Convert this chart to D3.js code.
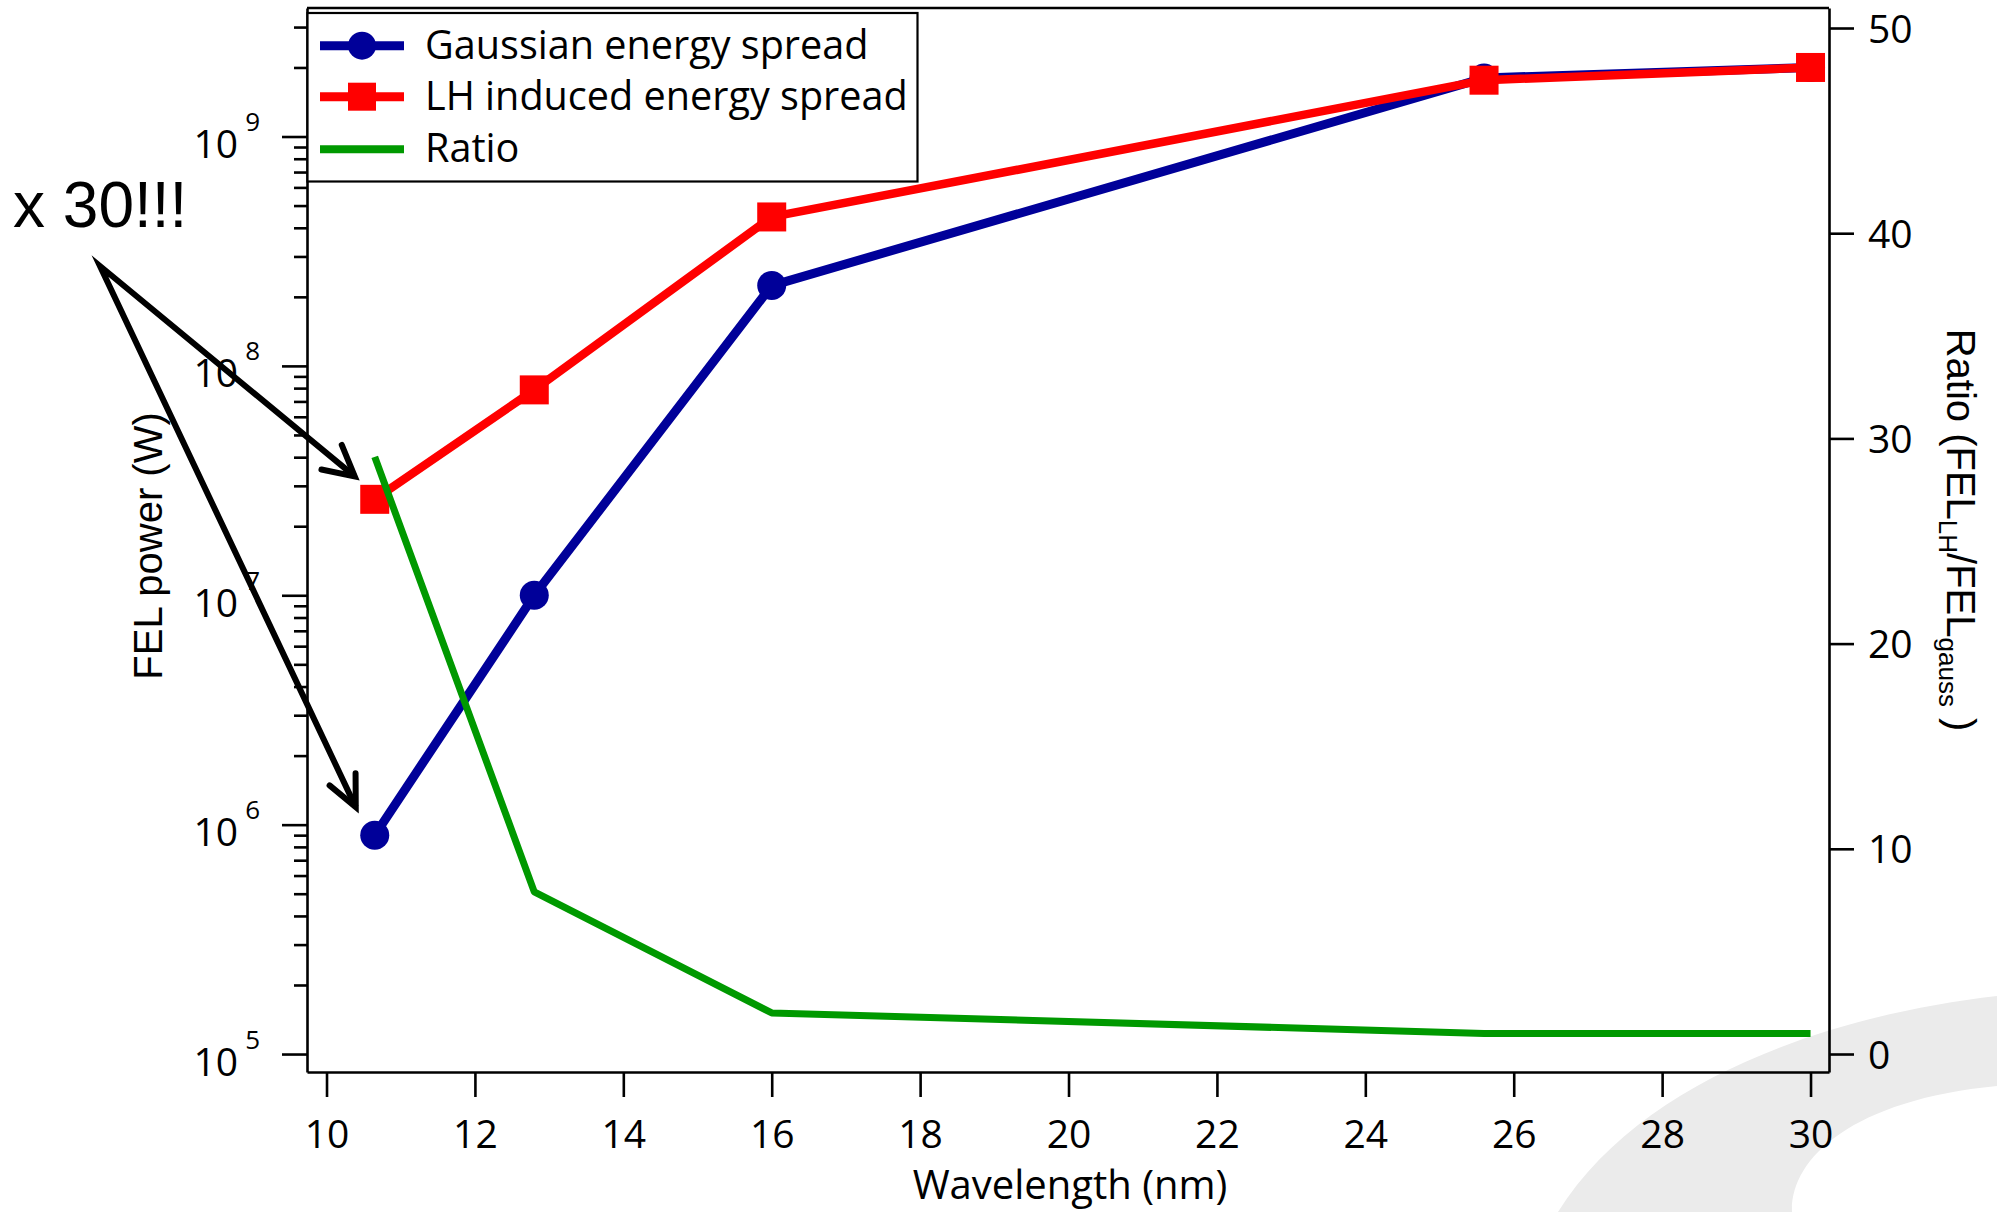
<!DOCTYPE html>
<html>
<head>
<meta charset="utf-8">
<script src="https://cdn.jsdelivr.net/npm/d3@7"></script>
<style>
  html, body { margin: 0; padding: 0; background: #ffffff; }
  svg { display: block; }
</style>
</head>
<body>
<svg id="chart" width="1997" height="1212"></svg>
<script>
// ---- data ----
const wavelength    = [10.65, 12.8, 16, 25.6, 30];          // nm
const gaussianPower = [9.0e5, 1.0e7, 2.24e8, 1.8e9, 2.0e9]; // W
const lhPower       = [2.62e7, 7.86e7, 4.46e8, 1.76e9, 2.0e9]; // W
const ratio         = [29.1, 7.9, 2.0, 1.0, 1.0];           // FEL_LH / FEL_gauss

const xTicks       = [10, 12, 14, 16, 18, 20, 22, 24, 26, 28, 30];
const powerDecades = [5, 6, 7, 8, 9];
const ratioTicks   = [0, 10, 20, 30, 40, 50];
const seriesNames  = ["Gaussian energy spread", "LH induced energy spread", "Ratio"];
const annotation   = "x 30!!!";

// ---- styling ----
const BLUE = "#000099", RED = "#ff0000", GREEN = "#009900";
const TICK_FONT = "'Open Sans', 'DejaVu Sans', sans-serif";
const LABEL_FONT = "'Liberation Sans', Arial, Helvetica, sans-serif";

const plot = { left: 307, right: 1829, top: 8, bottom: 1072 };

const svg = d3.select("#chart");

// ---- scales ----
const x = d3.scaleLinear().domain([9.737, 30.249]).range([plot.left, plot.right]);
const yPow = d3.scaleLog().domain([8.35e4, 3.633e9]).range([plot.bottom, plot.top]);
const yRatio = d3.scaleLinear().domain([-0.877, 50.975]).range([plot.bottom, plot.top]);

// ---- decorative background swoosh ----
svg.append("path")
  .attr("d", "M1997,996 C1830,1015 1640,1080 1558,1212 L1792,1212 C1790,1160 1850,1100 1997,1086 Z")
  .attr("fill", "#ebebeb");

// ---- axes ----
const axisStroke = 2.6;

function styleAxis(g) {
  g.selectAll("path.domain").attr("stroke", "#000").attr("stroke-width", axisStroke);
  g.selectAll(".tick line").attr("stroke", "#000").attr("stroke-width", axisStroke);
  g.selectAll(".tick text").attr("fill", "#000");
  g.attr("font-family", TICK_FONT).attr("font-size", 39);
}

// bottom: wavelength
const xAxisG = svg.append("g")
  .attr("transform", `translate(0,${plot.bottom})`)
  .call(d3.axisBottom(x).tickValues(xTicks).tickSize(25).tickSizeOuter(0).tickPadding(23)
        .tickFormat(d3.format("d")));
styleAxis(xAxisG);

// left: power, minor ticks
const majors = powerDecades.map(d => Math.pow(10, d));
const minors = [];
powerDecades.forEach(d => {
  for (let m = 2; m <= 9; m++) {
    const v = m * Math.pow(10, d);
    if (v <= yPow.domain()[1]) minors.push(v);
  }
});
const minorG = svg.append("g")
  .attr("transform", `translate(${plot.left},0)`)
  .call(d3.axisLeft(yPow).tickValues(minors).tickSize(13).tickSizeOuter(0).tickFormat(""));
styleAxis(minorG);
minorG.select("path.domain").remove();

// left: power, decades with 10^n labels
const yAxisG = svg.append("g")
  .attr("transform", `translate(${plot.left},0)`)
  .call(d3.axisLeft(yPow).tickValues(majors).tickSize(25).tickSizeOuter(0).tickPadding(22)
        .tickFormat(() => ""));
styleAxis(yAxisG);
yAxisG.selectAll(".tick text")
  .attr("font-size", 39)
  .attr("dy", 21)
  .each(function(d) {
    const t = d3.select(this);
    t.text(null);
    t.append("tspan").text("10");
    t.append("tspan").attr("font-size", 26).attr("dy", -27).attr("dx", 7)
      .text(Math.round(Math.log10(d)));
  });

// right: ratio
const rAxisG = svg.append("g")
  .attr("transform", `translate(${plot.right},0)`)
  .call(d3.axisRight(yRatio).tickValues(ratioTicks).tickSize(25).tickSizeOuter(0).tickPadding(14)
        .tickFormat(d3.format("d")));
styleAxis(rAxisG);
rAxisG.selectAll(".tick text").attr("dy", "0.36em");

// top frame line
svg.append("line")
  .attr("x1", x.range()[0]).attr("x2", x.range()[1])
  .attr("y1", yPow.range()[1]).attr("y2", yPow.range()[1])
  .attr("stroke", "#000").attr("stroke-width", axisStroke);

// ---- axis titles ----
svg.append("text")
  .attr("x", (plot.left + plot.right) / 2 + 2)
  .attr("y", 1199)
  .attr("text-anchor", "middle")
  .attr("font-family", TICK_FONT)
  .attr("font-size", 40)
  .attr("fill", "#000")
  .text("Wavelength (nm)");

svg.append("text")
  .attr("transform", "translate(162,546) rotate(-90)")
  .attr("text-anchor", "middle")
  .attr("font-family", LABEL_FONT)
  .attr("font-size", 40)
  .attr("fill", "#000")
  .text("FEL power (W)");

const rTitle = svg.append("text")
  .attr("transform", "translate(1947,530) rotate(90)")
  .attr("text-anchor", "middle")
  .attr("font-family", LABEL_FONT)
  .attr("font-size", 40)
  .attr("fill", "#000");
rTitle.append("tspan").text("Ratio (FEL");
rTitle.append("tspan").attr("font-size", 26).attr("dy", 8).text("LH");
rTitle.append("tspan").attr("dy", -8).text("/FEL");
rTitle.append("tspan").attr("font-size", 26).attr("dy", 8).text("gauss");
rTitle.append("tspan").attr("dy", -8).text(" )");

// ---- series ----
const idx = d3.range(wavelength.length);

const powerLine = values => d3.line()
  .x(i => x(wavelength[i]))
  .y(i => yPow(values[i]));

svg.append("path")
  .attr("d", powerLine(gaussianPower)(idx))
  .attr("fill", "none").attr("stroke", BLUE).attr("stroke-width", 9)
  .attr("stroke-linejoin", "round");
svg.append("g").selectAll("circle").data(idx).join("circle")
  .attr("cx", i => x(wavelength[i]))
  .attr("cy", i => yPow(gaussianPower[i]))
  .attr("r", 14.5)
  .attr("fill", BLUE);

svg.append("path")
  .attr("d", powerLine(lhPower)(idx))
  .attr("fill", "none").attr("stroke", RED).attr("stroke-width", 8.5)
  .attr("stroke-linejoin", "round");
svg.append("g").selectAll("rect").data(idx).join("rect")
  .attr("x", i => x(wavelength[i]) - 14.5)
  .attr("y", i => yPow(lhPower[i]) - 14.5)
  .attr("width", 29).attr("height", 29)
  .attr("fill", RED);

svg.append("path")
  .attr("d", d3.line().x(i => x(wavelength[i])).y(i => yRatio(ratio[i]))(idx))
  .attr("fill", "none").attr("stroke", GREEN).attr("stroke-width", 7)
  .attr("stroke-linejoin", "round");

// ---- legend ----
const legend = svg.append("g");
legend.append("rect")
  .attr("x", 307.5).attr("y", 13).attr("width", 610).attr("height", 168.5)
  .attr("fill", "#fff").attr("stroke", "#000").attr("stroke-width", 2.2);

const legendRows = [
  { name: seriesNames[0], color: BLUE, marker: "circle", y: 45.7, w: 9 },
  { name: seriesNames[1], color: RED, marker: "square", y: 96.7, w: 9 },
  { name: seriesNames[2], color: GREEN, marker: null, y: 149.3, w: 8 }
];
legendRows.forEach(r => {
  legend.append("line")
    .attr("x1", 320).attr("x2", 404).attr("y1", r.y).attr("y2", r.y)
    .attr("stroke", r.color).attr("stroke-width", r.w);
  if (r.marker === "circle") {
    legend.append("circle").attr("cx", 362).attr("cy", r.y).attr("r", 14).attr("fill", r.color);
  } else if (r.marker === "square") {
    legend.append("rect").attr("x", 348).attr("y", r.y - 14).attr("width", 28).attr("height", 28)
      .attr("fill", r.color);
  }
  legend.append("text")
    .attr("x", 425).attr("y", r.y + 13)
    .attr("font-family", TICK_FONT).attr("font-size", 39.6).attr("fill", "#000")
    .text(r.name);
});

// ---- annotation: "x 30!!!" with arrows to the first points ----
svg.append("text")
  .attr("x", 13).attr("y", 227)
  .attr("font-family", LABEL_FONT).attr("font-size", 64).attr("fill", "#000")
  .text(annotation);

const origin = [100, 266];
const tipLH = [x(wavelength[0]) - 20, yPow(lhPower[0]) - 23];
const tipGauss = [x(wavelength[0]) - 19, yPow(gaussianPower[0]) - 28];

svg.append("path")
  .attr("d", d3.line()([tipLH, origin, tipGauss]))
  .attr("fill", "none").attr("stroke", "#000").attr("stroke-width", 6)
  .attr("stroke-linejoin", "miter").attr("stroke-miterlimit", 12);

function arrowHead(from, tip, spreadDeg, len) {
  const back = Math.atan2(from[1] - tip[1], from[0] - tip[0]);
  const s = spreadDeg * Math.PI / 180;
  const a = [tip[0] + len * Math.cos(back + s), tip[1] + len * Math.sin(back + s)];
  const b = [tip[0] + len * Math.cos(back - s), tip[1] + len * Math.sin(back - s)];
  svg.append("path")
    .attr("d", d3.line()([a, tip, b]))
    .attr("fill", "none").attr("stroke", "#000").attr("stroke-width", 6)
    .attr("stroke-linejoin", "miter").attr("stroke-miterlimit", 10)
    .attr("stroke-linecap", "round");
}
arrowHead(origin, tipLH, 28, 34);
arrowHead(origin, tipGauss, 25, 34);
</script>
</body>
</html>
